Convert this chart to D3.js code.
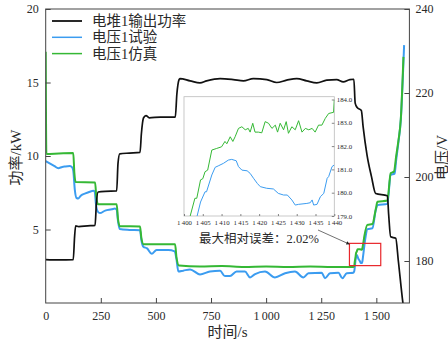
<!DOCTYPE html>
<html><head><meta charset="utf-8">
<script src="https://cdn.jsdelivr.net/npm/d3@7/dist/d3.min.js"></script>
<style>
html,body{margin:0;padding:0;background:#fff;}
svg{display:block;}
text{font-family:"Liberation Serif","Noto Sans CJK SC",serif;fill:#2a2a2a;}
</style></head>
<body><svg id="c" width="448" height="341"></svg>
<script>
// ---- data ----
const legendLabels = ["电堆1输出功率", "电压1试验", "电压1仿真"];
const xTicks = [0, 250, 500, 750, 1000, 1250, 1500];
const leftTicks = [5, 10, 15, 20];
const rightTicks = [180, 200, 220, 240];
const insetXTicks = [1400, 1405, 1410, 1415, 1420, 1425, 1430, 1435, 1440];
const insetYTicks = [179, 180, 181, 182, 183, 184];
const annotationText = "最大相对误差：2.02%";

// 电堆1输出功率 (kW) : [time s, power]
const powerData = [
 [0,2.95],[60,2.93],[125,2.95],[131,4.5],[136,5.25],[150,5.2],[190,5.25],[224,5.28],
 [230,6.8],[238,7.55],[270,7.6],[322,7.62],[328,9.5],[336,10.15],[380,10.2],[428,10.25],
 [434,11.5],[444,12.6],[455,12.75],[470,12.6],[520,12.65],[588,12.65],[595,14.2],[605,15.2],
 [609,15.27],[655,15.11],[700,14.97],[730,15.11],[791,15.27],[851,15.2],[897,15.11],[942,15.27],
 [1003,15.2],[1048,15.0],[1093,15.16],[1139,15.27],[1184,15.11],[1230,14.97],[1275,15.16],
 [1320,15.2],[1350,15.04],[1380,15.2],[1398,15.22],[1404,13.6],[1413,13.3],[1432,13.1],
 [1440,12.0],[1458,10.05],[1478,8.6],[1497,7.45],[1550,7.3],[1556,6.0],[1565,4.5],[1588,4.4],
 [1600,2.84],[1620,0.07],[1626,-0.6]
];
// 电压1试验 (V)
const testVData = [
 [0,203.8],[20,203.2],[40,202.6],[57,202.1],[75,202.4],[88,202.5],[110,202.6],[120,202.3],
 [125,201.5],[132,197],[140,195],[148,194.9],[160,195.6],[180,196.1],[200,196.5],[216,196.7],
 [222,196.5],[228,193.5],[236,191.8],[246,191.4],[270,192.0],[300,192.3],[314,192.5],[322,192.2],
 [328,189.5],[336,187.6],[380,187.4],[428,187.3],[434,185],[443,183.4],[460,183.0],[481,181.7],
 [503,182.6],[556,182.6],[585,182.3],[593,180.5],[602,177.5],[624,177.7],[655,178.0],[700,176.8],
 [745,177.5],[791,177.7],[813,176.4],[836,176.4],[866,177.5],[904,177.5],[927,176.1],[950,176.9],
 [995,177.5],[1040,176.1],[1086,177.1],[1131,177.5],[1169,176.1],[1192,177.1],[1252,177.2],
 [1267,175.9],[1290,177.1],[1328,177.2],[1346,175.9],[1366,177.1],[1396,177.2],[1400,177.6],
 [1403,178.9],[1407,180.8],[1412,181.4],[1418,180.6],[1425,180.0],[1430,179.5],[1435,179.5],
 [1437,180.0],[1440,181.2],[1449,185.0],[1460,187.6],[1482,187.8],[1497,192.0],[1505,193.3],
 [1550,193.6],[1565,200.5],[1583,200.8],[1590,204.0],[1600,208.2],[1611,213.6],[1626,231.4]
];
// 电压1仿真 (V)
const simVData = [
 [0,229.8],[3,205.5],[60,205.6],[125,205.7],[130,201],[136,198.8],[224,198.7],[230,195],
 [238,193.5],[322,193.5],[328,190],[336,188.3],[428,188.2],[434,185.5],[444,184.0],[587,184.0],
 [593,181],[605,178.9],[700,178.7],[800,178.8],[900,178.6],[1000,178.7],[1100,178.6],[1200,178.7],
 [1300,178.6],[1396,178.6],[1400,178.8],[1402,179.8],[1405,180.7],[1408,181.9],[1411,182.2],
 [1415,182.8],[1425,182.8],[1435,182.7],[1438,183.4],[1440,184.0],[1446,186.0],[1459,188.6],
 [1482,188.8],[1498,192.5],[1505,194.1],[1550,194.4],[1565,200.9],[1580,201.3],[1590,205.0],
 [1600,208.6],[1611,213.8],[1623,228.6]
];
// inset 1400-1440 s
const insetSimV = [
 [1400.8,178.6],[1401.6,178.97],[1402.9,179.76],[1403.4,179.76],[1404.4,180.55],[1405,180.6],
 [1405.6,180.9],[1406.3,180.97],[1407.4,181.83],[1408.7,181.9],[1410,181.97],[1410.9,182.2],
 [1411.4,182.1],[1412.3,182.4],[1413,182.2],[1413.6,182.4],[1414.5,182.76],[1415.4,182.83],
 [1416.3,182.7],[1417.1,182.76],[1417.6,182.6],[1418.3,182.98],[1418.9,182.6],[1419.8,182.6],
 [1420.7,182.57],[1421.6,183.05],[1422.5,182.98],[1423.4,182.76],[1424.3,182.9],[1424.9,182.6],
 [1425.6,182.98],[1426.5,182.7],[1427.2,183.05],[1427.8,182.55],[1428.7,182.83],[1429.6,182.7],
 [1430.5,183.09],[1431.4,182.6],[1432.3,182.76],[1433.2,182.7],[1434.1,182.76],[1434.9,182.6],
 [1435.8,182.9],[1436.7,182.9],[1437.6,183.19],[1438.5,183.4],[1439.8,183.45],[1440,183.98]
];
const insetTestV = [
 [1402.9,178.6],[1403.4,178.94],[1404.4,179.6],[1405.6,180.04],[1406,180.04],[1407.4,180.76],
 [1408.3,181.09],[1409.1,181.15],[1410.5,181.26],[1411.8,181.4],[1412.7,181.43],[1413.9,181.37],
 [1414.5,181.12],[1415.4,180.97],[1416.8,180.94],[1417.6,180.83],[1418.5,180.62],[1419.5,180.4],
 [1420.3,180.26],[1422.0,180.19],[1423.8,180.16],[1425.1,179.97],[1426.5,179.9],[1427.5,179.9],
 [1428.7,179.69],[1429.6,179.47],[1430.5,179.5],[1432.7,179.54],[1433.6,179.57],[1434.1,179.69],
 [1434.5,179.47],[1435.4,179.5],[1436.3,179.83],[1437.2,179.97],[1438.1,180.62],[1438.5,180.69],
 [1439.4,181.12],[1440,181.19]
];
// red box region of interest
const boxT = [1378, 1520];
const boxV = [178.9, 184.2];

// ---- drawing ----
const colBlack = "#111", colBlue = "#3b9cf0", colGreen = "#35b835", axisCol = "#444";
const svg = d3.select("#c");
const L = 45.7, R = 409.4, T = 9, B = 303;
const x = d3.scaleLinear().domain([0, 1650]).range([L, R]);
const yL = d3.scaleLinear().domain([0, 20]).range([B, T]);
const yR = d3.scaleLinear().domain([170, 240]).range([B, T]);
const fmt = v => { const s = String(v); return s.length > 3 ? s.slice(0, s.length-3) + "\u2009" + s.slice(-3) : s; };

svg.append("clipPath").attr("id","pc").append("rect").attr("x",L).attr("y",T).attr("width",R-L).attr("height",B-T);

const lineL = d3.line().x(d=>x(d[0])).y(d=>yL(d[1])).curve(d3.curveMonotoneX);
const lineR = d3.line().x(d=>x(d[0])).y(d=>yR(d[1])).curve(d3.curveMonotoneX);
const g = svg.append("g").attr("clip-path","url(#pc)");
g.append("path").attr("d", lineR(testVData)).attr("fill","none").attr("stroke",colBlue).attr("stroke-width",2);
g.append("path").attr("d", lineR(simVData)).attr("fill","none").attr("stroke",colGreen).attr("stroke-width",2);
g.append("path").attr("d", lineL(powerData)).attr("fill","none").attr("stroke",colBlack).attr("stroke-width",1.7);

// frame
svg.append("rect").attr("x",L).attr("y",T).attr("width",R-L).attr("height",B-T)
  .attr("fill","none").attr("stroke",axisCol).attr("stroke-width",1);

// axes
const ax = svg.append("g").attr("transform",`translate(0,${B})`)
  .call(d3.axisBottom(x).tickValues(xTicks).tickSize(-5).tickPadding(8).tickFormat(fmt));
const al = svg.append("g").attr("transform",`translate(${L},0)`)
  .call(d3.axisLeft(yL).tickValues(leftTicks).tickSize(-5).tickPadding(7));
const ar = svg.append("g").attr("transform",`translate(${R},0)`)
  .call(d3.axisRight(yR).tickValues(rightTicks).tickSize(-5).tickPadding(6));
[ax, al, ar].forEach(a => {
  a.select(".domain").remove();
  a.selectAll(".tick line").attr("stroke",axisCol);
  a.selectAll(".tick text").attr("font-size",12).attr("fill","#2a2a2a")
   .attr("font-family",'"Liberation Serif",serif');
});
ax.selectAll(".tick").filter(d=>d===0).select("line").remove();

// axis titles
svg.append("text").attr("x",227.5).attr("y",332).attr("text-anchor","middle")
  .attr("dominant-baseline","central").attr("font-size",15).text("时间/s");
svg.append("text").attr("transform","translate(16,157.5) rotate(-90)").attr("text-anchor","middle")
  .attr("dominant-baseline","central").attr("font-size",15).text("功率/kW");
svg.append("text").attr("transform","translate(441.5,157.5) rotate(-90)").attr("text-anchor","middle")
  .attr("dominant-baseline","central").attr("font-size",15).text("电压/V");

// legend
const legCols = [colBlack, colBlue, colGreen];
legendLabels.forEach((lab, i) => {
  const yy = 21 + i * 16.3;
  svg.append("line").attr("x1",52).attr("x2",82).attr("y1",yy).attr("y2",yy)
    .attr("stroke",legCols[i]).attr("stroke-width",i===0?1.8:1.5);
  svg.append("text").attr("x",92).attr("y",yy).attr("dominant-baseline","central")
    .attr("font-size",14.5).text(lab);
});

// red box
svg.append("rect").attr("x",x(boxT[0])).attr("y",yR(boxV[1]))
  .attr("width",x(boxT[1])-x(boxT[0])).attr("height",yR(boxV[0])-yR(boxV[1]))
  .attr("fill","none").attr("stroke","#e8262b").attr("stroke-width",1.2);

// annotation + arrow
svg.append("defs").append("marker").attr("id","ah").attr("viewBox","0 0 10 10")
  .attr("refX",9).attr("refY",5).attr("markerWidth",6).attr("markerHeight",5).attr("orient","auto")
  .append("path").attr("d","M0,0L10,5L0,10z").attr("fill","#222");
svg.append("line").attr("x1",318).attr("y1",230).attr("x2",x(boxT[0])).attr("y2",yR(184.0))
  .attr("stroke","#333").attr("stroke-width",0.7).attr("marker-end","url(#ah)");
svg.append("text").attr("x",199).attr("y",239.3).attr("dominant-baseline","central")
  .attr("font-size",12.5).text(annotationText);

// inset
const IL = 184, IR = 334.3, IT = 96.7, IB = 216;
const ix = d3.scaleLinear().domain([1400, 1440]).range([IL, IR]);
const iy = d3.scaleLinear().domain([179, 184]).range([IB, IB - 5*23.3]);
svg.append("rect").attr("x",IL).attr("y",IT).attr("width",IR-IL).attr("height",IB-IT)
  .attr("fill","#fff").attr("stroke","#bbb").attr("stroke-width",0.8);
svg.append("clipPath").attr("id","ic").append("rect").attr("x",IL).attr("y",IT).attr("width",IR-IL).attr("height",IB-IT);
const il = d3.line().x(d=>ix(d[0])).y(d=>iy(d[1]));
const ig = svg.append("g").attr("clip-path","url(#ic)");
ig.append("path").attr("d", il(insetTestV)).attr("fill","none").attr("stroke",colBlue).attr("stroke-width",1);
ig.append("path").attr("d", il(insetSimV)).attr("fill","none").attr("stroke",colGreen).attr("stroke-width",1);
const iax = svg.append("g").attr("transform",`translate(0,${IB})`)
  .call(d3.axisBottom(ix).tickValues(insetXTicks).tickSize(-2).tickPadding(4).tickFormat(fmt));
const iay = svg.append("g").attr("transform",`translate(${IR},0)`)
  .call(d3.axisRight(iy).tickValues(insetYTicks).tickSize(-2.5).tickPadding(2.5));
[iax, iay].forEach(a => {
  a.select(".domain").remove();
  a.selectAll(".tick line").attr("stroke","#555").attr("stroke-width",0.7);
  a.selectAll(".tick text").attr("font-size",6.8).attr("fill","#222")
   .attr("font-family",'"Liberation Serif",serif');
});
</script></body></html>
